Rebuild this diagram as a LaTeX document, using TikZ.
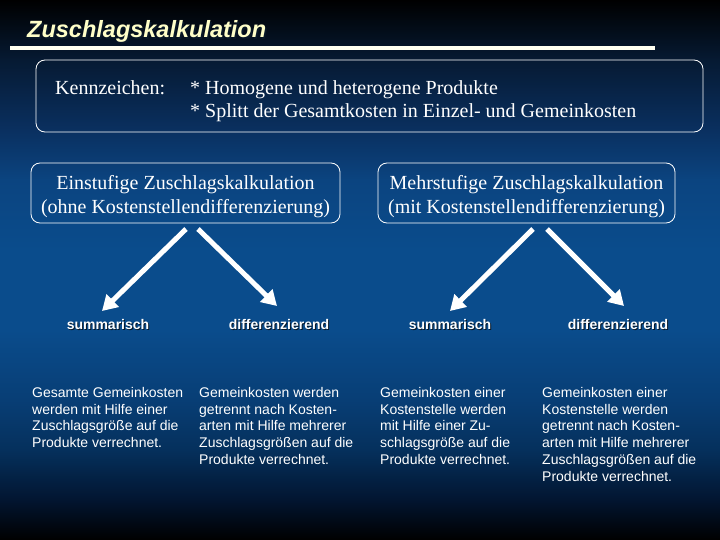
\documentclass[tikz,border=0pt]{standalone}
\usepackage{fontspec}
\setmainfont{Liberation Serif}
\setsansfont{Liberation Sans}
\usetikzlibrary{arrows.meta}
\definecolor{bg0}{HTML}{000000}
\definecolor{bg1}{HTML}{061A33}
\definecolor{bg2}{HTML}{0A3060}
\definecolor{bg3}{HTML}{0B4480}
\definecolor{bg4}{HTML}{0A4C8C}
\definecolor{bg5}{HTML}{083E75}
\definecolor{bg6}{HTML}{05305C}
\definecolor{bg7}{HTML}{021530}
\definecolor{titleyellow}{HTML}{FFFFC8}
\definecolor{lineyellow}{HTML}{FFFFF0}
\definecolor{shadowc}{HTML}{081828}
\begin{document}
\begin{tikzpicture}[x=1pt,y=-1pt,
  rbox/.style={draw=white, line width=0.8pt, rounded corners=9pt, inner sep=0pt},
  boxtext/.style={font=\fontsize{20}{24}\selectfont, text=white, align=center, inner sep=0pt},
  serif/.style={font=\fontsize{20}{24}\selectfont, text=white, anchor=base west, inner sep=0pt},
  lab/.style={font=\sffamily\bfseries\fontsize{14}{17}\selectfont, text=white, anchor=base, inner sep=0pt},
  labshadow/.style={lab, text=shadowc},
  titlefont/.style={font=\sffamily\bfseries\itshape\fontsize{23.5}{28}\selectfont, anchor=base west, inner sep=0pt},
  desc/.style={font=\sffamily\fontsize{14}{16.8}\selectfont, text=white, align=left, anchor=north west, inner sep=0pt},
  bigarrow/.style={draw=white, line width=5pt, -{Triangle[width=17pt,length=15pt]}}
]
\useasboundingbox (0,0) rectangle (720,540);
% background
\shade[top color=bg0, bottom color=bg1] (0,0) rectangle (720,60.5);
\shade[top color=bg1, bottom color=bg2] (0,60) rectangle (720,130.5);
\shade[top color=bg2, bottom color=bg3] (0,130) rectangle (720,180.5);
\shade[top color=bg3, bottom color=bg4] (0,180) rectangle (720,250.5);
\fill[bg4] (0,250) rectangle (720,330.5);
\shade[top color=bg4, bottom color=bg5] (0,330) rectangle (720,400.5);
\shade[top color=bg5, bottom color=bg6] (0,400) rectangle (720,450.5);
\shade[top color=bg6, bottom color=bg7] (0,450) rectangle (720,500.5);
\shade[top color=bg7, bottom color=bg0] (0,500) rectangle (720,540);

% title
\node[titlefont, text=shadowc] (titleshadow) at (28.5,39.5) {Zuschlagskalkulation};
\node[titlefont, text=titleyellow] (title) at (27,38) {Zuschlagskalkulation};
\coordinate (ulA) at (10,48);
\coordinate (ulB) at (655,48);
\draw[lineyellow, line width=3.5pt] (ulA) -- (ulB);

% box 1
\node[rbox, minimum width=667pt, minimum height=72pt] (kbox) at (369.5,96) {};
\node[serif] (kenn) at (55,95) {Kennzeichen:};
\node[serif] (k1) at (190,95) {* Homogene und heterogene Produkte};
\node[serif] (k2) at (190,118) {* Splitt der Gesamtkosten in Einzel- und Gemeinkosten};

% boxes 2 and 3
\node[rbox, minimum width=309pt, minimum height=60pt] (ebox) at (185.5,193) {};
\node[boxtext] (etext) at (185.5,197) {Einstufige Zuschlagskalkulation\\(ohne Kostenstellendifferenzierung)};
\node[rbox, minimum width=297pt, minimum height=60pt] (mbox) at (526.5,193) {};
\node[boxtext] (mtext) at (526.5,197) {Mehrstufige Zuschlagskalkulation\\(mit Kostenstellendifferenzierung)};

% arrows
\coordinate (e1s) at (186,229);
\coordinate (e1e) at (102,311);
\coordinate (e2s) at (198,229);
\coordinate (e2e) at (277,306);
\coordinate (m1s) at (533,229);
\coordinate (m1e) at (450,311);
\coordinate (m2s) at (547,229);
\coordinate (m2e) at (624,306);
\draw[bigarrow] (e1s) -- (e1e);
\draw[bigarrow] (e2s) -- (e2e);
\draw[bigarrow] (m1s) -- (m1e);
\draw[bigarrow] (m2s) -- (m2e);

% labels
\node[labshadow] (l1s) at (109,330) {summarisch};
\node[lab] (l1) at (108,329) {summarisch};
\node[labshadow] (l2s) at (280,330) {differenzierend};
\node[lab] (l2) at (279,329) {differenzierend};
\node[labshadow] (l3s) at (451,330) {summarisch};
\node[lab] (l3) at (450,329) {summarisch};
\node[labshadow] (l4s) at (619,330) {differenzierend};
\node[lab] (l4) at (618,329) {differenzierend};

% descriptions
\node[desc] (d1) at (32,387) {Gesamte Gemeinkosten\\werden mit Hilfe einer\\Zuschlagsgröße auf die\\Produkte verrechnet.};
\node[desc] (d2) at (199,387) {Gemeinkosten werden\\getrennt nach Kosten-\\arten mit Hilfe mehrerer\\Zuschlagsgrößen auf die\\Produkte verrechnet.};
\node[desc] (d3) at (380,387) {Gemeinkosten einer\\Kostenstelle werden\\mit Hilfe einer Zu-\\schlagsgröße auf die\\Produkte verrechnet.};
\node[desc] (d4) at (542,387) {Gemeinkosten einer\\Kostenstelle werden\\getrennt nach Kosten-\\arten mit Hilfe mehrerer\\Zuschlagsgrößen auf die\\Produkte verrechnet.};
\end{tikzpicture}
\end{document}
